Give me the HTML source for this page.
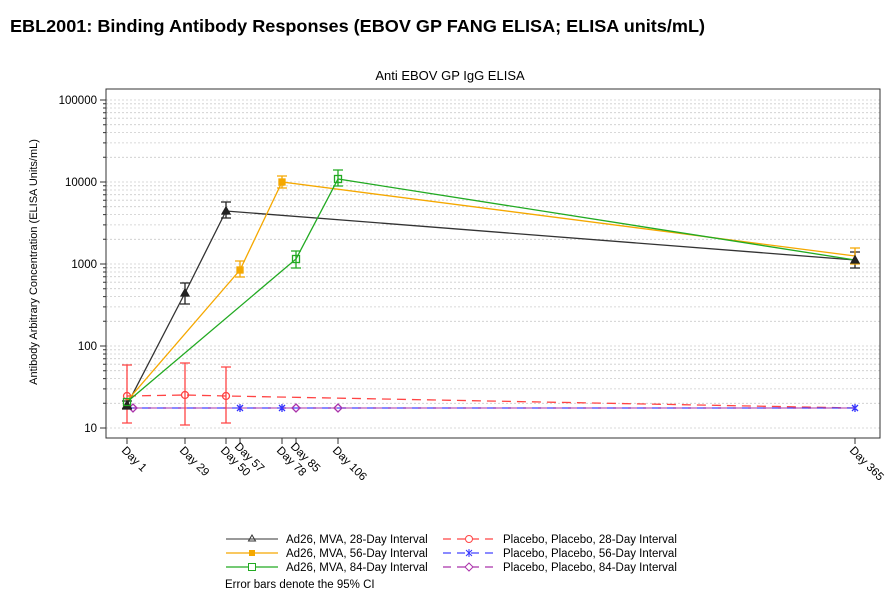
<!DOCTYPE html>
<html><head><style>
body{margin:0;background:#fff;width:895px;height:602px;overflow:hidden;font-family:"Liberation Sans",sans-serif}
</style></head><body>
<svg width="895" height="602" xmlns="http://www.w3.org/2000/svg" font-family="Liberation Sans, sans-serif">
<text x="10" y="32" font-size="17.5" font-weight="bold" fill="#000" textLength="695" lengthAdjust="spacingAndGlyphs">EBL2001: Binding Antibody Responses (EBOV GP FANG ELISA; ELISA units/mL)</text>
<text x="450" y="80" font-size="13" text-anchor="middle">Anti EBOV GP IgG ELISA</text>
<path d="M106 403.3H880M106 388.9H880M106 378.6H880M106 370.7H880M106 364.2H880M106 358.7H880M106 354H880M106 349.8H880M106 346H880
M106 321.3H880M106 306.9H880M106 296.6H880M106 288.7H880M106 282.2H880M106 276.7H880M106 272H880M106 267.8H880M106 264H880
M106 239.3H880M106 224.9H880M106 214.6H880M106 206.7H880M106 200.2H880M106 194.7H880M106 190H880M106 185.8H880M106 182H880
M106 157.3H880M106 142.9H880M106 132.6H880M106 124.7H880M106 118.2H880M106 112.7H880M106 108H880M106 103.8H880M106 100H880M106 428H880" stroke="#ccc" stroke-width="0.8" stroke-dasharray="2,2"/>
<rect x="106" y="89" width="774" height="349" fill="none" stroke="#333" stroke-width="1"/>
<g stroke="#333" stroke-width="1">
<path d="M100 100H106M100 182H106M100 264H106M100 346H106M100 428H106"/>
<path d="M103 403.3H106M103 388.9H106M103 378.6H106M103 370.7H106M103 364.2H106M103 358.7H106M103 354H106M103 349.8H106M103 321.3H106M103 306.9H106M103 296.6H106M103 288.7H106M103 282.2H106M103 276.7H106M103 272H106M103 267.8H106M103 239.3H106M103 224.9H106M103 214.6H106M103 206.7H106M103 200.2H106M103 194.7H106M103 190H106M103 185.8H106M103 157.3H106M103 142.9H106M103 132.6H106M103 124.7H106M103 118.2H106M103 112.7H106M103 108H106M103 103.8H106"/>
<path d="M127 438v6M185 438v6M226 438v6M240 438v6M282 438v6M296 438v6M338 438v6M855 438v6"/>
</g>
<g font-size="11.5" text-anchor="end" fill="#000">
<text x="97" y="104">100000</text><text x="97" y="186">10000</text><text x="97" y="268">1000</text><text x="97" y="350">100</text><text x="97" y="432">10</text>
</g>
<text transform="translate(37,262) rotate(-90)" font-size="11" text-anchor="middle">Antibody Arbitrary Concentration (ELISA Units/mL)</text>
<g font-size="11.5">
<text transform="translate(121,451) rotate(45)">Day 1</text>
<text transform="translate(179,451) rotate(45)">Day 29</text>
<text transform="translate(220,451) rotate(45)">Day 50</text>
<text transform="translate(234,447) rotate(45)">Day 57</text>
<text transform="translate(276,451) rotate(45)">Day 78</text>
<text transform="translate(290,447) rotate(45)">Day 85</text>
<text transform="translate(332,451) rotate(45)">Day 106</text>
<text transform="translate(849,451) rotate(45)">Day 365</text>
</g>
<g fill="none" stroke-width="1.3">
<path d="M127 396L185 395L226 396L855 408" stroke="#f44" stroke-dasharray="9,6"/>
<path d="M127 408H855" stroke="#44f" stroke-dasharray="9,6"/>
<path d="M133 408H855" stroke="#a3a" stroke-dasharray="9,6" opacity="0.8"/>
<path d="M127 423V365M122 423h10M122 365h10M185 425V363M180 425h10M180 363h10M226 423V367M221 423h10M221 367h10" stroke="#f44"/>
<circle cx="127" cy="396" r="3.5" stroke="#f44"/><circle cx="185" cy="395" r="3.5" stroke="#f44"/><circle cx="226" cy="396" r="3.5" stroke="#f44"/>
<path d="M237 405l6 6M243 405l-6 6M240 404v8M279 405l6 6M285 405l-6 6M282 404v8M852 405l6 6M858 405l-6 6M855 404v8" stroke="#33f"/>
<path d="M296 404l4 4-4 4-4-4zM338 404l4 4-4 4-4-4zM133 404l4 4-4 4-4-4z" stroke="#a3a"/>
</g>
<g fill="none" stroke-width="1.3">
<path d="M127 405L185 293L226 211L855 260" stroke="#333"/>
<path d="M127 401L240 270L282 182L855 256" stroke="#f5a800"/>
<path d="M127 402L296 259L338 179L855 260" stroke="#2a2"/>
<path d="M185 304V283M180 304h10M180 283h10M226 218V202M221 218h10M221 202h10M855 268V252M850 268h10M850 252h10M127 409v-8M122 409h10M122 401h10" stroke="#222"/>
<path d="M240 277V261M235 277h10M235 261h10M282 188V176M277 188h10M277 176h10M855 264V248M850 264h10M850 248h10" stroke="#f5a800"/>
<path d="M296 268V251M291 268h10M291 251h10M338 186V170M333 186h10M333 170h10" stroke="#2a2"/>
<path d="M185 289l4 7h-8zM226 207l4 7h-8zM855 256l4 7h-8zM127 401l4 7h-8z" fill="#222" stroke="#222"/>
<rect x="237" y="267" width="6" height="6" fill="#f5a800" stroke="#f5a800"/><rect x="279" y="179" width="6" height="6" fill="#f5a800" stroke="#f5a800"/>
<rect x="292.5" y="255.5" width="7" height="7" stroke="#2a2"/><rect x="334.5" y="175.5" width="7" height="7" stroke="#2a2"/><rect x="123.5" y="398.5" width="7" height="7" stroke="#2a2"/>
</g>
<g font-size="11.5" fill="#000">
<path d="M226 539H278" stroke="#333"/><path d="M252 535l3.5 6h-7z" fill="none" stroke="#333"/>
<text x="286" y="543">Ad26, MVA, 28-Day Interval</text>
<path d="M226 553H278" stroke="#f5a800" stroke-width="1.3"/><rect x="249" y="550" width="6" height="6" fill="#f5a800"/>
<text x="286" y="557">Ad26, MVA, 56-Day Interval</text>
<path d="M226 567H278" stroke="#2a2" stroke-width="1.3"/><rect x="248.5" y="563.5" width="7" height="7" fill="#fff" stroke="#2a2"/>
<text x="286" y="571">Ad26, MVA, 84-Day Interval</text>
<path d="M443 539H495" stroke="#f44" stroke-width="1.3" stroke-dasharray="8,6"/><circle cx="469" cy="539" r="3.5" fill="#fff" stroke="#f44"/>
<text x="503" y="543">Placebo, Placebo, 28-Day Interval</text>
<path d="M443 553H495" stroke="#44f" stroke-width="1.3" stroke-dasharray="8,6"/><path d="M466 550l6 6M472 550l-6 6M469 549v8" stroke="#33f"/>
<text x="503" y="557">Placebo, Placebo, 56-Day Interval</text>
<path d="M443 567H495" stroke="#a3a" stroke-width="1.3" stroke-dasharray="8,6"/><path d="M469 563l4 4-4 4-4-4z" fill="#fff" stroke="#a3a"/>
<text x="503" y="571">Placebo, Placebo, 84-Day Interval</text>
<text x="225" y="588">Error bars denote the 95% CI</text>
</g>
</svg>
</body></html>
